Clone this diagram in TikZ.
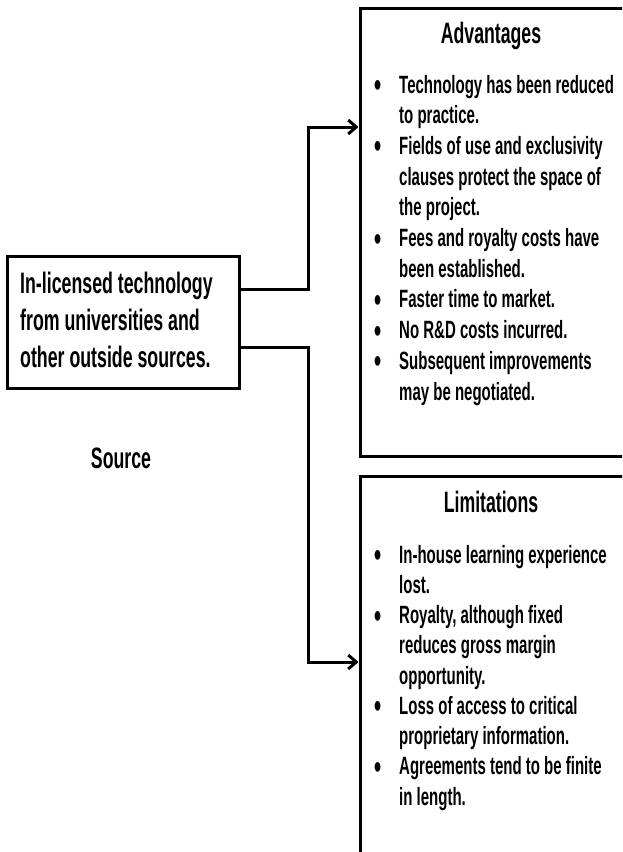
\documentclass[tikz,border=0pt]{standalone}
\usepackage{fontspec}
\setmainfont{Liberation Sans}[FakeStretch=0.6]
\usetikzlibrary{arrows.meta}
\newcommand\listbullet{\llap{\raisebox{-3.5pt}{\scalebox{1.35}{\textbullet}}\hspace{18pt}}}
\begin{document}
\begin{tikzpicture}[x=1pt, y=-1pt,
  frame/.style={draw, line width=3pt, rectangle, inner sep=0pt},
  conn/.style={line width=3pt},
  arr/.style={conn, -{Straight Barb[length=8pt, width=14pt, line width=3pt]}},
  bodytext/.style={font=\fontsize{25}{30}\selectfont\bfseries, inner sep=0pt, anchor=base west},
  srctext/.style={font=\fontsize{29.6}{34}\selectfont\bfseries, inner sep=0pt, anchor=base west},
  headtext/.style={font=\fontsize{29.5}{34}\selectfont\bfseries, inner sep=0pt, anchor=base}
]
\useasboundingbox (0,0) rectangle (622,852);
\clip (0,0) rectangle (622,852);

% boxes (the two list boxes run past the right and bottom edges)
\node[frame, minimum width=232pt, minimum height=132pt] (src) at (123,322) {};
\node[frame, minimum width=300pt, minimum height=448pt] (adv) at (510,232) {};
\node[frame, minimum width=300pt, minimum height=430pt] (lim) at (510,691) {};

% connector points
\coordinate (bus) at (308,0);
\path (src.east) ++(0,-33) coordinate (sA) ++(0,58) coordinate (sB);
\path (adv.west) ++(0,-105) coordinate (tA);
\path (lim.west) ++(0,-29) coordinate (tB);

\draw[arr] (sA) -- (sA -| bus) |- (tA);
\draw[arr] (sB) -- (sB -| bus) |- (tB);

% source box text
\foreach \t [count=\i from 0] in {In-licensed technology, from universities and, other outside sources.}
  \node[srctext] (src-\i) at (20, 293+37*\i) {\t};
\node[headtext] (srclabel) at (121,468) {Source};

% headings
\node[headtext] (advhead) at (491,43) {Advantages};
\node[headtext] (limhead) at (491,512) {Limitations};

% advantages list
\foreach \b/\t [count=\i from 0] in {1/Technology has been reduced, 0/to practice., 1/Fields of use and exclusivity, 0/clauses protect the space of, 0/the project., 1/Fees and royalty costs have, 0/been established., 1/Faster time to market., 1/No R\&D costs incurred., 1/Subsequent improvements, 0/may be negotiated.}
  \node[bodytext] (adv-\i) at (399, 93+30.7*\i) {\ifnum\b=1 \listbullet\fi\t};

% limitations list
\foreach \b/\t [count=\i from 0] in {1/In-house learning experience, 0/lost., 1/{Royalty, although fixed}, 0/reduces gross margin, 0/opportunity., 1/Loss of access to critical, 0/proprietary information., 1/Agreements tend to be finite, 0/in length.}
  \node[bodytext] (lim-\i) at (399, 563+30.25*\i) {\ifnum\b=1 \listbullet\fi\t};
\end{tikzpicture}
\end{document}
